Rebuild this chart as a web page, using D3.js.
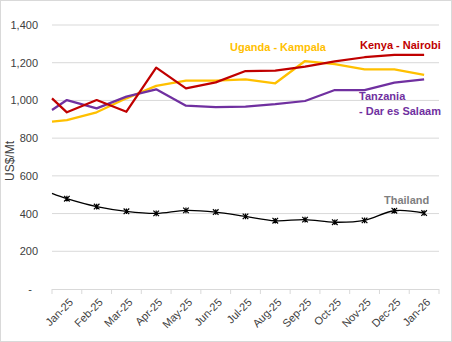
<!DOCTYPE html>
<html><head><meta charset="utf-8">
<script src="https://cdn.jsdelivr.net/npm/d3@7"></script>
<style>
html,body{margin:0;padding:0;background:#fff;}
svg{display:block;font-family:"Liberation Sans",Arial,sans-serif;}
</style></head>
<body>
<svg id="chart" width="452" height="342"></svg>
<script>
const categories = ["Jan-25","Feb-25","Mar-25","Apr-25","May-25","Jun-25","Jul-25","Aug-25","Sep-25","Oct-25","Nov-25","Dec-25","Jan-26"];
const yTicks = [0,200,400,600,800,1000,1200,1400];
// value where each line enters the plot at the left edge
const startValues = {kenya:1011, uganda:887, tanzania:949, thailand:507};
const kenya    = [937,1002,940,1174,1064,1096,1156,1158,1179,1207,1229,1241,1241];
const uganda   = [896,937,1011,1077,1105,1105,1112,1091,1209,1193,1165,1165,1135];
const tanzania = [1002,958,1020,1059,972,964,967,980,997,1055,1055,1094,1112];
const thailand = [479,437,412,401,417,408,385,362,368,354,364,415,403];

const series = [
  {key:"uganda", name:"Uganda - Kampala", values:uganda, color:"#FFC000", width:2.25},
  {key:"tanzania", name:"Tanzania", values:tanzania, color:"#7030A0", width:2.25},
  {key:"kenya", name:"Kenya - Nairobi", values:kenya, color:"#C00000", width:2.25},
  {key:"thailand", name:"Thailand", values:thailand, color:"#000000", width:1.3}
];

const svg = d3.select("#chart");
svg.append("rect").attr("x",0.5).attr("y",0.5).attr("width",451).attr("height",341)
  .attr("fill","#fff").attr("stroke","#d9d9d9");

const L = 52, R = 439, T = 25, B = 289;
const x = d3.scaleBand().domain(categories).range([L,R]).paddingInner(0).paddingOuter(0);
const y = d3.scaleLinear().domain([0,1400]).range([B,T]);
const cx = c => x(c) + x.bandwidth()/2;

// gridlines
svg.append("g").selectAll("line").data(yTicks.filter(d=>d>0)).join("line")
  .attr("x1",L).attr("x2",R).attr("y1",d=>y(d)).attr("y2",d=>y(d))
  .attr("stroke","#d9d9d9").attr("stroke-width",1);

// y axis labels
const yAxis = d3.axisLeft(y).tickValues(yTicks).tickSize(0).tickPadding(14)
  .tickFormat(d => d===0 ? "-" : d3.format(",")(d));
const gy = svg.append("g").attr("transform",`translate(${L},0)`).call(yAxis);
gy.select(".domain").remove();
gy.selectAll("text").attr("font-size","11px").attr("fill","#404040")
  .attr("font-family","Liberation Sans, Arial, sans-serif");
gy.selectAll(".tick").filter(d=>d===0).select("text").attr("dx","-6");

// x axis
const xAxis = d3.axisBottom(x).tickSize(0).tickFormat(d=>d);
const gx = svg.append("g").attr("transform",`translate(0,${B})`).call(xAxis);
gx.select(".domain").attr("stroke","#d9d9d9").attr("d",`M${L},0.5H${R}`);
gx.selectAll(".tick text")
  .attr("font-size","11px").attr("fill","#404040")
  .attr("font-family","Liberation Sans, Arial, sans-serif")
  .attr("text-anchor","end")
  .attr("dy",0).attr("y",0)
  .attr("transform","translate(7,14) rotate(-45)");
// boundary tick marks
const bounds = categories.map(c=>x(c)).concat([R]);
svg.append("g").selectAll("line").data(bounds).join("line")
  .attr("x1",d=>d).attr("x2",d=>d).attr("y1",B).attr("y2",B+5)
  .attr("stroke","#d9d9d9").attr("stroke-width",1);

// lines
series.forEach(s => {
  const pts = [[L, y(startValues[s.key])]].concat(s.values.map((v,i)=>[cx(categories[i]), y(v)]));
  const line = d3.line().curve(s.key==="thailand" ? d3.curveCatmullRom.alpha(0.5) : d3.curveLinear);
  svg.append("path").attr("d", line(pts)).attr("fill","none")
    .attr("stroke", s.color).attr("stroke-width", s.width)
    .attr("stroke-linejoin","round");
  if (s.key==="thailand") {
    const r = 2.8;
    svg.append("g").selectAll("path").data(s.values).join("path")
      .attr("transform",(d,i)=>`translate(${cx(categories[i])},${y(d)})`)
      .attr("d",`M${-r},${-r}L${r},${r}M${-r},${r}L${r},${-r}M0,${-r}L0,${r}`)
      .attr("stroke","#000").attr("stroke-width",1.2).attr("fill","none");
  }
});

// labels
const lab = (txt, xx, yy, color) => svg.append("text").attr("x",xx).attr("y",yy)
  .attr("font-size","11px").attr("font-weight","bold").attr("fill",color).text(txt);
lab("Uganda - Kampala", 230, 51, "#FFC000");
lab("Kenya - Nairobi", 360, 49, "#C00000");
lab("Tanzania", 359, 100, "#7030A0");
lab("- Dar es Salaam", 359, 115, "#7030A0");
lab("Thailand", 384, 204, "#7F7F7F");

// y axis title
svg.append("text").attr("transform","translate(14,161) rotate(-90)")
  .attr("text-anchor","middle").attr("font-size","12px").attr("fill","#404040")
  .text("US$/Mt");
</script>
</body></html>
